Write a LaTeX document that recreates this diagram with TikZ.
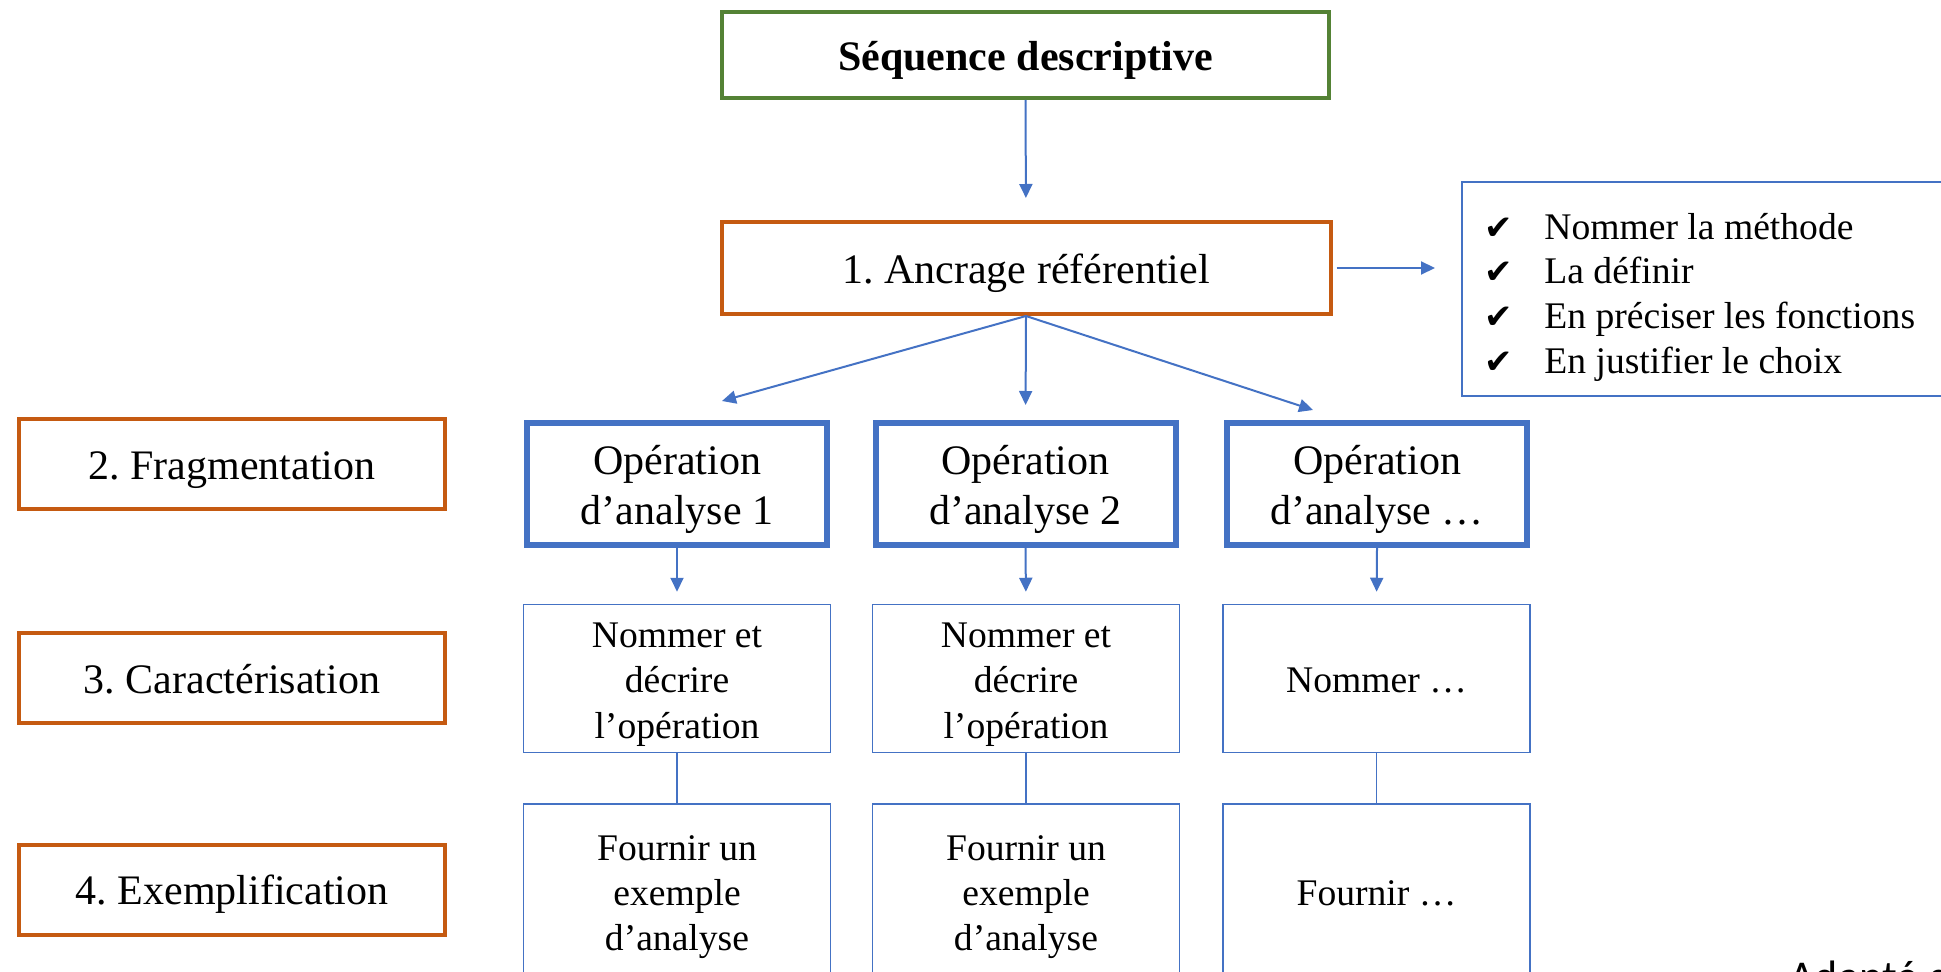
\documentclass[tikz,border=0pt]{standalone}
\usepackage{fontspec}
\setmainfont{Liberation Serif}
\newfontfamily\dejavu{DejaVu Sans}
\newfontfamily\carlito{Carlito}
\usetikzlibrary{arrows.meta}
\definecolor{cgreen}{HTML}{548235}
\definecolor{corange}{HTML}{C55A11}
\definecolor{cblue}{HTML}{4472C4}
\frenchspacing
\newcommand{\tsb}{\rule{0pt}{20pt}}
\newcommand{\bsb}{\rule[-4.7pt]{0pt}{0pt}}
\newcommand{\tss}{\rule{0pt}{18.5pt}}
\newcommand{\bss}{\rule[-4.2pt]{0pt}{0pt}}
\newcommand{\ckm}{\makebox[30pt][l]{\dejavu\fontsize{17}{17}\selectfont ✔}}
\begin{document}
\begin{tikzpicture}[x=0.5pt,y=-0.5pt,
  box/.style={draw, rectangle, inner sep=0pt, align=center},
  greenbox/.style={box, draw=cgreen, line width=2pt},
  orangebox/.style={box, draw=corange, line width=2pt},
  opbox/.style={box, draw=cblue, line width=3pt, minimum width=150pt, minimum height=61pt, font=\fontsize{21}{25}\selectfont},
  thinbox/.style={box, draw=cblue, line width=0.75pt, minimum width=153.5pt, font=\fontsize{18.8}{22.6}\selectfont},
  conn/.style={draw=cblue, line width=1pt, -{Triangle[length=7pt,width=6.5pt]}},
  link/.style={draw=cblue, line width=0.75pt},
  big/.style={font=\fontsize{21}{25}\selectfont},
  listitem/.style={anchor=base west, inner sep=0pt, font=\fontsize{18.8}{22.6}\selectfont}
]
\useasboundingbox (0,0) rectangle (1941,972);
\clip (0,0) rectangle (1941,972);

\node[greenbox, big, minimum width=303.5pt, minimum height=43pt] (seq) at (1025.5,55) {\tsb\textbf{Séquence descriptive}\bsb};
\node[orangebox, big, minimum width=304.5pt, minimum height=46pt] (anc) at (1026,268) {\tsb 1. Ancrage référentiel\bsb};

\node[orangebox, big, minimum width=213pt, minimum height=45pt] (l2) at (232,464) {\tsb 2. Fragmentation\bsb};
\node[orangebox, big, minimum width=213pt, minimum height=45pt] (l3) at (232,678) {\tsb 3. Caractérisation\bsb};
\node[orangebox, big, minimum width=213pt, minimum height=45pt] (l4) at (232,889.5) {\tsb 4. Exemplification\bsb};

\node[box, draw=cblue, line width=1pt, minimum width=254pt, minimum height=107pt] (chk) at (1716,289.5) {};
\node[listitem] (i1) at (1484,240) {\ckm Nommer la méthode};
\node[listitem] (i2) at (1484,284) {\ckm La définir};
\node[listitem] (i3) at (1484,329) {\ckm En préciser les fonctions};
\node[listitem] (i4) at (1484,374) {\ckm En justifier le choix};

\node[opbox] (op1) at (677,484) {\tsb Opération\\d’analyse 1\bsb};
\node[opbox] (op2) at (1025.5,484) {\tsb Opération\\d’analyse 2\bsb};
\node[opbox] (op3) at (1377,484) {\tsb Opération\\d’analyse …\bsb};

\node[thinbox, minimum height=74pt] (mid1) at (677,678.5) {\tss Nommer et\\décrire\\l’opération\bss};
\node[thinbox, minimum height=74pt] (mid2) at (1026,678.5) {\tss Nommer et\\décrire\\l’opération\bss};
\node[thinbox, minimum height=74pt] (mid3) at (1376.5,678.5) {\tss Nommer …\bss};

\node[thinbox, minimum height=87pt] (bot1) at (677,891) {\tss Fournir un\\exemple\\d’analyse\bss};
\node[thinbox, minimum height=87pt] (bot2) at (1026,891) {\tss Fournir un\\exemple\\d’analyse\bss};
\node[thinbox, minimum height=87pt] (bot3) at (1376.5,891) {\tss Fournir …\bss};

\node[anchor=base west, inner sep=0pt, font=\carlito\fontsize{22}{26}\selectfont] (src) at (1789,991) {Adapté d};

\coordinate (t1) at (722,401);
\coordinate (t3) at (1313,410);

\draw[conn, shorten >=11pt] (seq.south) -- (anc.north);
\draw[conn, shorten <=2pt, shorten >=13pt] (anc.east) -- (anc.east -| chk.west);
\draw[conn] (anc.south) -- (t1);
\draw[conn, shorten >=7.5pt] (anc.south) -- (op2.north);
\draw[conn] (anc.south) -- (t3);
\foreach \i in {1,2,3} {
  \draw[conn, shorten >=6pt] (op\i.south) -- (mid\i.north);
  \draw[link] (mid\i.south) -- (bot\i.north);
}
\end{tikzpicture}
\end{document}
